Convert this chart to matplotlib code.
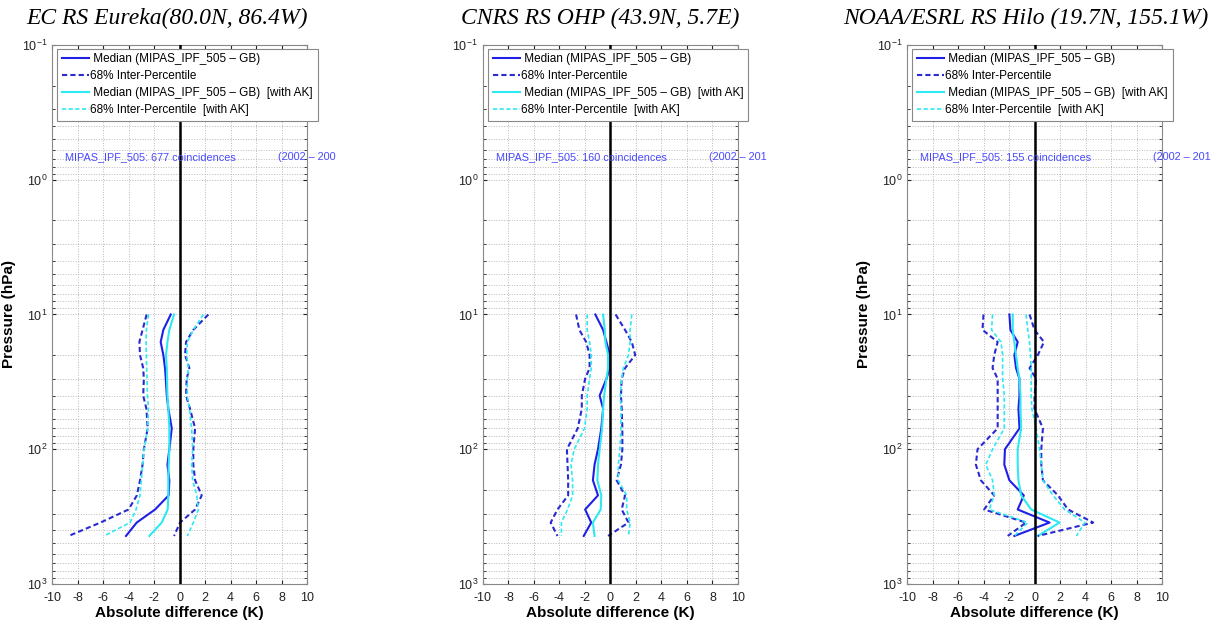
import matplotlib
matplotlib.use('Agg')
import matplotlib.pyplot as plt
from matplotlib.ticker import LogLocator, NullFormatter

# pressure levels (hPa) shared by all profiles
levels = [10, 13, 16, 20, 25, 30, 40, 50, 70, 100, 130, 170, 220, 280, 350, 440]

titles = ['EC RS Eureka(80.0N, 86.4W)',
          'CNRS RS OHP (43.9N, 5.7E)',
          'NOAA/ESRL RS Hilo (19.7N, 155.1W)']
coincidences = [677, 160, 155]
period_labels = ['(2002 \u2013 200', '(2002 \u2013 201', '(2002 \u2013 201']

# Eureka
eureka_med = [-0.69, -1.27, -1.48, -1.27, -1.14, -1.08, -1.0, -0.88, -0.61, -0.8, -0.95, -0.8, -0.85, -1.92, -3.36, -4.2]
eureka_lo = [-2.58, -2.9, -3.15, -3.1, -2.85, -2.8, -2.85, -2.6, -2.5, -2.8, -2.9, -3.1, -3.35, -4.0, -6.2, -8.7]
eureka_hi = [2.26, 1.08, 0.51, 0.43, 0.77, 0.56, 0.51, 0.82, 1.22, 1.08, 1.08, 1.22, 1.74, 1.22, 0.04, -0.43]
eureka_med_ak = [-0.43, -0.8, -0.95, -1.06, -1.0, -0.98, -0.95, -0.88, -0.8, -0.8, -0.85, -0.88, -0.88, -0.93, -1.4, -2.37]
eureka_lo_ak = [-2.44, -2.6, -2.63, -2.6, -2.58, -2.55, -2.52, -2.44, -2.5, -2.78, -2.9, -3.0, -3.1, -3.41, -3.88, -5.92]
eureka_hi_ak = [1.87, 1.08, 0.61, 0.56, 0.69, 0.61, 0.61, 0.77, 0.95, 1.03, 0.95, 1.03, 1.35, 1.48, 1.08, 0.61]

# OHP
ohp_med = [-1.19, -0.58, -0.32, -0.05, -0.05, -0.32, -0.85, -0.58, -0.72, -0.98, -1.25, -1.38, -0.98, -1.99, -1.51, -2.1]
ohp_lo = [-2.7, -2.44, -1.91, -1.64, -1.64, -1.99, -2.25, -2.25, -2.57, -3.42, -3.37, -3.32, -3.32, -4.16, -4.69, -4.16]
ohp_hi = [0.4, 1.14, 1.67, 1.94, 1.14, 0.88, 0.82, 0.88, 0.93, 0.93, 0.82, 0.48, 1.14, 0.88, 1.41, -0.19]
ohp_med_ak = [-0.58, -0.45, -0.4, -0.19, -0.19, -0.32, -0.5, -0.58, -0.66, -0.85, -0.98, -1.03, -0.72, -0.77, -1.38, -1.25]
ohp_lo_ak = [-1.83, -1.83, -1.64, -1.51, -1.51, -1.64, -1.83, -1.83, -2.04, -2.84, -3.1, -2.97, -2.97, -3.37, -3.85, -3.85]
ohp_hi_ak = [1.67, 1.54, 1.54, 1.41, 1.01, 0.88, 0.77, 0.82, 0.82, 0.74, 0.61, 0.61, 1.27, 1.27, 1.54, 1.41]

# Hilo
hilo_med = [-1.97, -1.89, -1.32, -1.58, -1.45, -1.18, -1.18, -1.26, -1.18, -2.32, -2.37, -1.97, -0.84, -1.32, 1.18, -1.58]
hilo_lo = [-4.0, -4.08, -2.89, -3.16, -3.29, -2.89, -2.89, -2.89, -2.89, -4.47, -4.6, -4.21, -3.16, -3.95, -0.66, -2.1]
hilo_hi = [-0.39, 0.0, 0.74, 0.26, -0.39, 0.13, 0.0, 0.0, 0.66, 0.53, 0.53, 0.66, 1.84, 2.63, 4.6, 0.26]
hilo_med_ak = [-1.71, -1.71, -1.58, -1.45, -1.32, -1.18, -1.1, -1.1, -1.05, -1.32, -1.32, -1.26, -1.05, -0.26, 1.97, 0.26]
hilo_lo_ak = [-3.29, -3.37, -2.63, -2.5, -2.5, -2.5, -2.37, -2.37, -2.37, -3.29, -3.82, -3.29, -3.16, -3.55, -0.53, -1.58]
hilo_hi_ak = [-0.66, -0.53, -0.39, -0.32, -0.26, -0.26, -0.26, -0.21, 0.13, 0.39, 0.53, 0.66, 1.45, 2.37, 3.95, 3.29]

stations = [
    (eureka_med, eureka_lo, eureka_hi, eureka_med_ak, eureka_lo_ak, eureka_hi_ak),
    (ohp_med, ohp_lo, ohp_hi, ohp_med_ak, ohp_lo_ak, ohp_hi_ak),
    (hilo_med, hilo_lo, hilo_hi, hilo_med_ak, hilo_lo_ak, hilo_hi_ak),
]

BLUE = '#1f1fe6'
DBLUE = '#2a2ad0'
CYAN = '#2ee8f2'
TEXT_BLUE = '#4848ff'

plt.rcParams['font.family'] = ['Liberation Sans', 'DejaVu Sans']
plt.rcParams['axes.unicode_minus'] = False

fig = plt.figure(figsize=(12.16, 6.22), dpi=100)
lefts = [0.0428, 0.3972, 0.7459]
centers = [167, 600, 1026]

for i, (med, lo, hi, med_ak, lo_ak, hi_ak) in enumerate(stations):
    ax = fig.add_axes([lefts[i], 0.0611, 0.2097, 0.8666])

    ax.plot(med, levels, '-', color=BLUE, lw=1.5, label=' Median (MIPAS_IPF_505 \u2013 GB)')
    ax.plot(lo, levels, '--', color=DBLUE, lw=1.5, dashes=(2.5, 1.5), label='68% Inter-Percentile')
    ax.plot(med_ak, levels, '-', color=CYAN, lw=1.5,
            label=' Median (MIPAS_IPF_505 \u2013 GB)  [with AK]')
    ax.plot(lo_ak, levels, '--', color=CYAN, lw=1.2, dashes=(2.5, 1.5),
            label='68% Inter-Percentile  [with AK]')
    ax.plot(hi, levels, '--', color=DBLUE, lw=1.5, dashes=(2.5, 1.5))
    ax.plot(hi_ak, levels, '--', color=CYAN, lw=1.2, dashes=(2.5, 1.5))

    ax.axvline(0, color='black', lw=1.8, zorder=3)

    ax.set_yscale('log')
    ax.set_ylim(1000, 0.1)
    ax.set_xlim(-10, 10)
    ax.set_xticks(range(-10, 11, 2))
    ax.yaxis.set_major_locator(LogLocator(base=10, numticks=10))
    ax.yaxis.set_minor_locator(LogLocator(base=10, subs=range(2, 10), numticks=10))
    ax.yaxis.set_minor_formatter(NullFormatter())
    ax.tick_params(which='both', direction='in', top=True, right=True,
                   labelsize=9, colors='#222222', length=3)
    ax.tick_params(axis='x', pad=6)
    ax.tick_params(which='minor', length=2)
    ax.grid(True, which='major', linestyle=':', color='#b8b8b8', lw=0.7)
    ax.grid(True, which='minor', axis='y', linestyle=':', color='#b8b8b8', lw=0.7)
    for sp in ax.spines.values():
        sp.set_color('#888888')
        sp.set_linewidth(0.8)

    ax.set_xlabel('Absolute difference (K)', fontsize=11, fontweight='bold', labelpad=1)
    if i != 1:
        ax.set_ylabel('Pressure (hPa)', fontsize=11, fontweight='bold', labelpad=4)

    ax.text(-9.0, 0.68, 'MIPAS_IPF_505: %d coincidences' % coincidences[i],
            color=TEXT_BLUE, fontsize=7.8, va='center', ha='left')
    ax.text(7.7 if i < 2 else 9.3, 0.68, period_labels[i],
            color=TEXT_BLUE, fontsize=7.8, va='center', ha='left', clip_on=False)

    leg = ax.legend(loc='upper left', bbox_to_anchor=(0.02, 0.993), borderaxespad=0,
                    fontsize=8.5, fancybox=False, framealpha=1, edgecolor='#888888',
                    handlelength=2.3, handletextpad=0.1, labelspacing=0.42,
                    borderpad=0.4)
    leg.get_frame().set_linewidth(0.8)

    fig.text(centers[i] / 1216, 1 - 18 / 622, titles[i], ha='center', va='center',
             fontsize=17, style='italic', family='Liberation Serif')

fig.savefig('out.png', dpi=100)
